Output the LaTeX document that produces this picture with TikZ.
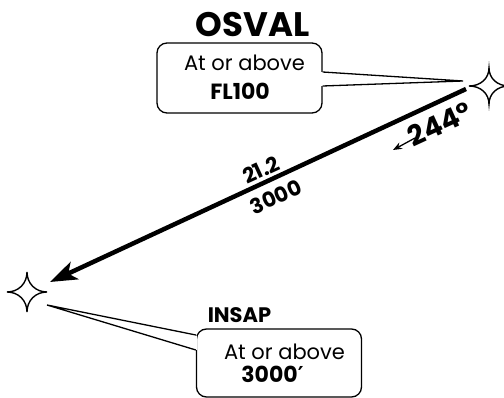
\documentclass[tikz,border=0pt]{standalone}
\usepackage{fontspec}
\setmainfont{Poppins}
\newfontfamily\djv{DejaVu Sans}
\usetikzlibrary{arrows.meta,calc}
\tikzset{
  starline/.style={line width=1.4pt, fill=white},
  callbox/.style={draw, line width=1.3pt, rounded corners=10pt, minimum width=165pt, minimum height=70pt, inner sep=0pt},
  callline/.style={line width=1.3pt},
  txt/.style={inner sep=0pt, anchor=base},
  rtxt/.style={inner sep=0pt, rotate=24.7},
  route/.style={line width=4.5pt, -{Stealth[length=27pt,width=19pt,inset=7pt]}},
}
\begin{document}
\begin{tikzpicture}[x=1pt,y=-1pt]
\useasboundingbox (0,0) rectangle (504,398);
% waypoints
\coordinate (osval) at (489,86);
\coordinate (insap) at (27,292);
\draw[starline, shift={(osval)}] (0,-18) .. controls (0,-8) and (8,0) .. (20,0)
  .. controls (8,0) and (0,8) .. (0,18) .. controls (0,8) and (-8,0) .. (-20,0)
  .. controls (-8,0) and (0,-8) .. cycle;
\draw[starline, shift={(insap)}] (0,-20) .. controls (0,-8.5) and (8.5,0) .. (20,0)
  .. controls (8.5,0) and (0,8.5) .. (0,20) .. controls (0,8.5) and (-8.5,0) .. (-20,0)
  .. controls (-8.5,0) and (0,-8.5) .. cycle;
% route
\coordinate (rstart) at (466,89);
\coordinate (rend) at (50,282);
\draw[route] (rstart) -- (rend);
\node[rtxt, font=\bfseries\fontsize{21}{21}\selectfont] (dist) at (261,170) {21.2};
\node[rtxt, font=\bfseries\fontsize{21}{21}\selectfont] (alt) at (276,197) {3000};
\node[rtxt, font=\bfseries\fontsize{28}{28}\selectfont] (crs) at (440,124) {244°};
\coordinate (ca) at (415,138);
\coordinate (cb) at (393,150);
\draw[line width=1.3pt, -{Stealth[length=9pt,width=7pt]}] (ca) -- (cb);
% OSVAL callout
\node[txt, font=\bfseries\fontsize{34}{34}\selectfont] (oname) at (252.5,37) {OSVAL};
\node[callbox] (obox) at (239.5,78) {};
\coordinate (otip) at (463,81);
\fill[white] ($(obox.east)+(-1.5,-6)$) rectangle ($(obox.east)+(1.5,8)$);
\draw[callline] ($(obox.east)+(0,-6)$) -- (otip) -- ($(obox.east)+(0,8)$);
\node[txt, font=\fontsize{21}{21}\selectfont] (otxt) at (244.5,71) {At or above};
\node[txt, font=\bfseries\fontsize{22}{22}\selectfont] (olvl) at (240,100) {FL100};
% INSAP callout
\node[txt, font=\bfseries\fontsize{21}{21}\selectfont] (iname) at (239.5,323) {INSAP};
\node[callbox, minimum height=68pt] (ibox) at (279,363) {};
\coordinate (itip) at (47,305);
\fill[white] ($(ibox.west)+(-1.5,-27)$) rectangle ($(ibox.west)+(1.5,-13)$);
\draw[callline] ($(ibox.west)+(0,-28)$) -- (itip) -- ($(ibox.west)+(0,-13)$);
\node[txt, font=\fontsize{21}{21}\selectfont] (itxt) at (284.5,360) {At or above};
\node[txt, font=\bfseries\fontsize{22}{22}\selectfont] (ilvl) at (272.5,383) {3000{\djv\bfseries ′}};
\end{tikzpicture}
\end{document}
